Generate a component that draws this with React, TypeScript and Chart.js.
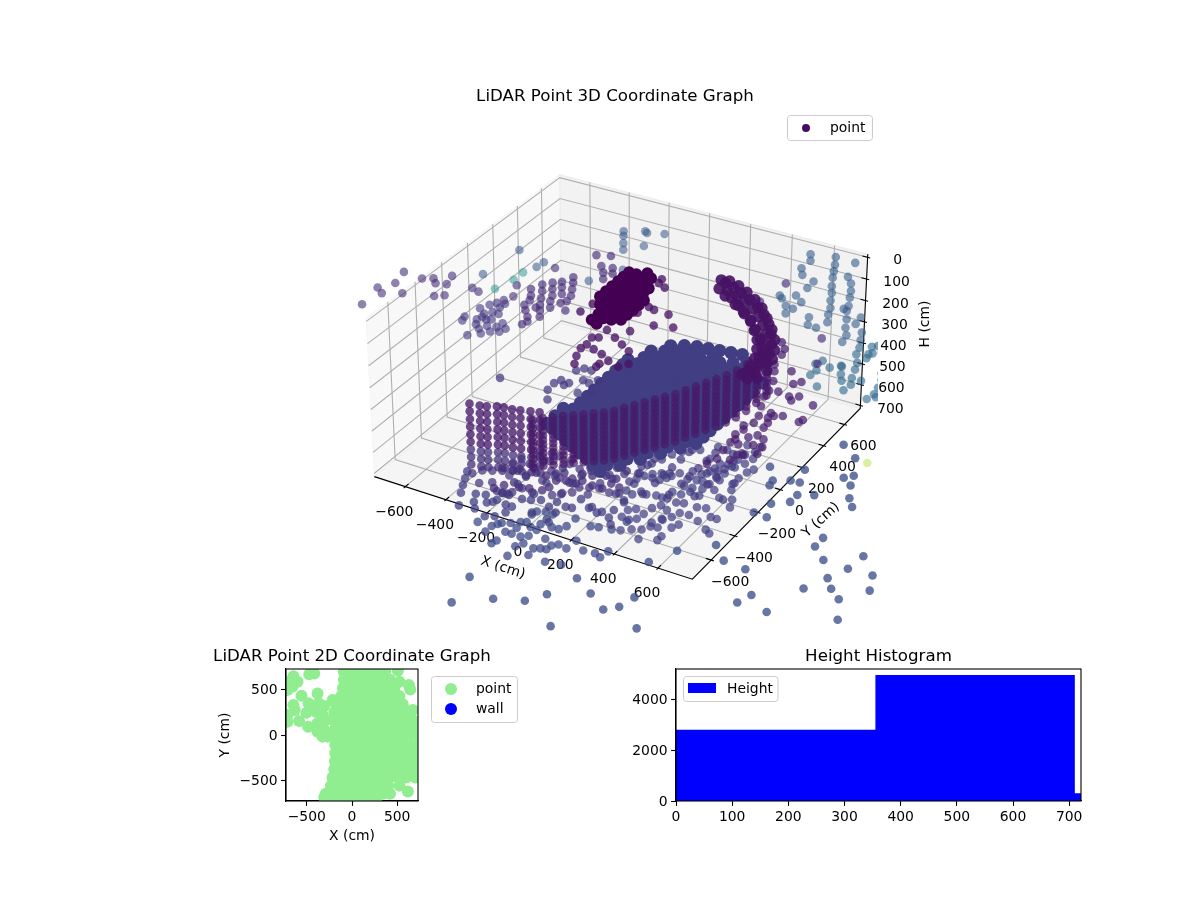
import { useEffect, useRef } from 'react';
import { Chart, registerables } from 'chart.js';

Chart.register(...registerables);
Chart.defaults.font.family = '"DejaVu Sans", sans-serif';
Chart.defaults.font.size = 13.9;
Chart.defaults.color = '#000';

// ---- 3D cloud, values in cm. Pairs are [X, Y] at one height.
const wallPoints = [[221,1200],[248,1152],[324,1233],[419,1231],[353,1175],[376,1125],[451,1113],[246,1079],[277,1032],[345,1007],[399,1075],[431,1011],[490,1070],[521,1015],[350,946],[340,868],[459,962],[544,965],[281,834],[300,818],[346,771],[387,830],[384,765],[377,716],[486,904],[575,901],[517,849],[569,870],[588,862],[536,797],[623,800],[667,843],[478,736],[505,679],[565,739],[547,675],[675,785],[654,736],[733,736],[689,683],[761,677],[701,627]];
const wallLowPoints = [[847,672],[829,653],[788,620],[889,633],[848,591],[857,559],[804,566],[859,607],[843,506],[796,452],[863,453],[803,447],[695,413],[709,449],[727,366],[763,414],[724,320],[831,390],[861,344],[887,385],[932,384],[1003,432],[911,335],[1022,370],[908,279],[796,251],[1035,314],[1054,297],[1029,264],[975,481]];
const wallDarkPoints = [[-29,1451],[-51,1266],[327,1134],[414,945]];
const backLeftPoints = [[-959,-490],[-975,-334],[-936,-367],[-931,-264],[-862,-325],[-948,-164],[-855,-175],[-814,-151],[-786,-182],[-742,-166],[-758,-94],[-736,-280],[-702,-253],[-634,-141],[-596,-156],[-486,-30],[-451,-119],[-423,178]];
const backBluePoints = [[-655,-17],[-628,237],[-494,148],[-488,197],[-247,152],[-172,304],[-257,637],[-243,628],[-176,657],[-335,593],[-316,559],[-285,504],[-257,455],[-199,525]];
const backTealPoints = [[-549,-101],[-521,5],[-519,79]];
const leftClusterPoints = [[-519,-276],[-500,-230],[-482,-201],[-469,-166],[-449,-191],[-452,-229],[-480,-309],[-476,-334],[-458,-279],[-428,-280],[-483,-365],[-449,-346],[-531,-402],[-539,-369],[-431,-336],[-374,-341],[-466,-402],[-436,-430],[-419,-392],[-381,-380],[-340,-375],[-409,-461],[-384,-428],[-350,-409],[-450,-501]];
const midColumnPoints = [[-300,-308],[-293,-276],[-375,-159],[-348,-197],[-313,-241],[-419,-28],[-391,-77],[-376,-113],[-269,-216],[-296,-168],[-319,-127],[-343,-76],[-371,-19],[-398,29],[-323,-155],[-369,64],[-342,16],[-314,-33],[-298,-78],[-271,-126],[-339,90],[-316,49],[-288,0],[-253,-71],[-204,-116],[-318,147],[-295,106],[-271,56],[-247,5],[-239,-44],[-330,359],[-274,382],[-265,287],[-216,296],[-230,243],[-193,255],[-203,195]];
const nearBlobPoints = [[80,83],[111,72],[183,67],[177,-45],[255,-19],[-111,283],[13,281],[8,315],[54,259],[116,-135],[49,9],[64,18]];
const farOutlierPoints = [[0,-1304],[38,-1528],[177,-1412],[303,-1359],[358,-1264],[505,-1490],[403,-1084],[517,-1165],[631,-1255],[679,-1201],[696,-1100],[835,-1321],[1099,-916],[1120,-832],[1249,-922],[1286,-674],[1331,-548],[1389,-616],[1462,-675],[1547,-826],[1239,-428],[1366,-437],[1371,-316],[1486,-433],[1540,-547],[1151,-349],[1145,-271],[989,-660],[873,-645],[780,-550],[660,-674],[602,-815],[838,429],[936,358],[1002,232],[973,197],[1030,157],[1078,65],[1124,9],[936,12],[873,-23],[875,-87],[812,-140],[852,-245],[785,-239],[831,70],[789,65],[723,27],[731,-13],[798,170],[657,118]];
const floorRightPoints = [[609,63],[596,28],[589,-30],[610,-128],[653,-195],[676,-254],[619,-214],[597,-208],[547,-164],[592,-311],[554,-323],[514,-400],[556,-395],[501,-445],[479,-485],[450,-528],[385,-483],[337,-465],[311,-489],[645,-363],[675,-364],[613,-418],[558,-485],[544,-521],[492,-550],[462,-558],[441,-598],[404,-619],[367,-649],[678,-463],[707,-482],[542,-604],[543,-640],[469,-673],[515,-236],[466,-228],[444,-267],[400,-266],[386,-328],[356,-326],[315,-340],[285,-331],[263,-370],[226,-355],[468,-127],[442,-132],[404,-144],[352,-120],[315,-141],[285,-158],[255,-183],[233,-214],[216,-251],[508,-76],[452,-63],[505,-132],[493,44],[531,37],[553,85],[563,137],[590,-84],[518,-26],[461,-12]];
const floorRightExtraPoints = [[227,-290],[420,-199],[458,-196],[499,-182],[271,-211],[305,-210],[323,-181],[333,-157],[392,-79],[436,-80],[455,-43],[484,-26],[594,-74],[527,-84],[204,-204],[183,-151],[209,-110],[230,-61],[247,-5],[273,36],[302,71],[332,88],[404,47],[461,33],[516,38],[511,99],[517,148],[543,189],[486,222],[542,235],[470,129],[432,145],[386,147],[408,-324],[458,-333],[490,-323],[392,-425],[257,-429],[413,-385],[455,-407],[472,-480],[379,-532],[354,-556],[316,-550]];
const floorDarkRightPoints = [[475,379],[419,392],[393,351],[398,272],[412,206],[417,136],[430,62],[413,6],[409,452],[451,457],[465,483],[522,296],[508,234],[510,144],[559,180],[458,279],[449,209],[549,239],[488,132],[482,82],[195,1022],[286,800],[349,836],[407,750],[429,781],[383,664],[442,653],[466,629],[479,674],[498,502],[566,641],[588,516],[350,600],[345,652],[321,729],[259,848],[233,980],[246,932],[378,525],[443,497],[471,422],[484,312],[409,323],[418,237],[581,494]];
const floorNearPoints = [[-311,-478],[-274,-457],[-256,-428],[-204,-462],[-178,-421],[-130,-420],[-101,-385],[-74,-362],[-21,-386],[-4,-330],[41,-323],[92,-294],[141,-294],[148,-217],[-141,-545],[-182,-559],[-220,-536],[-246,-577],[-271,-619],[-85,-532],[-71,-496],[-73,-434],[-36,-413],[12,-412],[24,-379],[80,-392],[129,-392],[142,-338],[188,-349]];
const floorNearExtraPoints = [[-266,-497],[-256,-446],[-124,-463],[-130,-375],[-73,-406],[-16,-420],[40,-433],[77,-412],[118,-398],[171,-405],[211,-390],[-222,-636],[-188,-609],[-167,-560],[-114,-567],[-29,-545],[0,-510],[34,-483],[-233,-296],[-176,-310],[-159,-254],[-91,-288],[-34,-302],[18,-291],[66,-290],[127,-302],[151,-242],[-239,-372],[-288,-355],[-302,-408],[-323,-457],[-348,-499],[-385,-520],[-411,-561],[-346,-615],[-301,-582]];
const floorMidPoints = [[-330,-816],[-374,-722],[-398,-663],[-417,-611],[-437,-558],[-315,-698],[-290,-758],[-259,-804],[-274,-684],[-239,-736],[-220,-718],[-213,-695],[-219,-634],[-248,-633],[-188,-635],[-124,-636],[-130,-712],[-130,-766],[-154,-817],[-191,-838],[-87,-624],[-50,-603],[7,-634],[17,-583],[69,-599],[96,-593],[94,-512],[159,-557],[207,-574],[272,-584],[-161,-711],[166,-544],[223,-558],[259,-519],[265,-443],[-33,-711],[55,-661],[306,-628],[50,-728]];
const floorFarPoints = [[-194,-893],[-126,-892],[-112,-865],[-101,-850],[-126,-946],[-68,-831],[-35,-803],[-13,-790],[-25,-725],[-18,-694],[15,-676],[52,-681],[69,-744],[47,-775],[22,-817],[-26,-853],[-52,-904],[-21,-905],[-56,-1016],[-49,-985],[24,-907],[50,-883],[56,-825],[124,-869],[100,-773],[134,-772],[151,-734],[153,-661],[240,-684],[274,-674],[330,-661],[354,-574],[62,-949],[44,-987],[54,-1072],[128,-1021],[119,-963],[145,-948],[171,-942],[174,-904],[196,-882],[241,-893],[247,-817],[312,-872],[367,-867],[402,-884],[408,-825],[217,-1034],[289,-1021]];
const midDarkPoints = [[-674,812],[-660,892],[-522,552],[-506,488],[-481,428],[-524,651],[-499,665],[-470,572],[-420,554],[-439,699],[-385,665],[-332,632],[-389,481],[-368,520],[-389,454],[-308,500],[-281,542],[-515,591],[-500,737]];
const midBluePoints = [[-425,415],[-447,384],[-391,416],[-463,284],[-477,248],[-473,187],[-433,256],[-422,280],[-382,330],[-348,322],[-327,361],[-350,229],[-301,257],[-434,118],[-697,170]];
const strayGreenPoints = [[1000,350]];

// floor just under the near wall, one X per row
const underBandRowX = [-200, -100, 0, 100, 200, 300, 400, 500];
const underBandRowY = [
  [-250, -320, -395, -470, -540, -630],
  [-190, -255, -330, -400, -470, -575],
  [-130, -205, -270, -345, -420, -520],
  [-70, -140, -215, -280, -360, -465],
  [5, -70, -130, -210, -285, -400],
  [50, -20, -95, -165, -240, -345],
  [100, 25, -45, -120, -190, -295],
  [150, 80, 5, -65, -140, -250],
];

// the dense floor disc: one X per row, the Ys seen along it
const massRowX = [-340, -300, -250, -200, -150, -100, -50, 0, 50, 100, 150, 200, 250, 290];
const massRowY = [
  [-50, 20, 90],
  [-75, -15, 45, 105, 165, 225, 285, 345, 405, 465, 525, 570],
  [-100, -40, 20, 80, 140, 200, 260, 320, 380, 440, 500, 560, 620, 680],
  [-130, -70, -10, 50, 110, 170, 230, 290, 350, 410, 470, 530, 590, 650, 710, 760],
  [-160, -100, -40, 20, 80, 140, 200, 260, 320, 380, 440, 500, 560, 620, 680, 740, 790],
  [-190, -130, -70, -10, 50, 110, 170, 230, 290, 350, 410, 470, 530, 590, 650, 710, 770, 810],
  [-215, -155, -95, -35, 25, 85, 145, 205, 265, 325, 385, 445, 505, 565, 625, 685, 745, 820],
  [-245, -185, -125, -65, -5, 55, 115, 175, 235, 295, 355, 415, 475, 535, 595, 655, 715, 775, 830],
  [-275, -215, -155, -95, -35, 25, 85, 145, 205, 265, 325, 385, 445, 505, 565, 625, 685, 745, 840],
  [-190, -130, -70, -10, 50, 110, 170, 230, 290, 350, 410, 470, 530, 590, 650, 710, 770, 850],
  [-105, -45, 15, 75, 135, 195, 255, 315, 375, 435, 495, 555, 615, 675, 735, 800],
  [-20, 40, 100, 160, 220, 280, 340, 400, 460, 520, 580, 640, 700, 750],
  [60, 120, 180, 240, 300, 360, 420, 480, 540, 600, 660, 700],
  [125, 185, 245, 305, 365, 425, 485, 545, 605, 690],
];

// the near wall of the cylinder: columns at one X,Y
const bandX = [-76,-47,-14,19,52,85,118,152,181,206,231,257,282,307,333,354,375,397,418,440,457,467,472,478];
const bandY = [-618,-583,-555,-527,-499,-471,-443,-416,-381,-339,-297,-256,-214,-172,-131,-82,-33,15,64,112,168,237,314,390];
const bandH = [330, 350, 370, 390, 410, 430, 450, 470, 490, 510, 530, 550];
const leftColumnX = [-344,-299,-270,-233,-204,-166,-132,-91,-54];
const leftColumnY = [-679,-672,-663,-642,-635,-632,-622,-608,-596];
const leftColumnUpperH = [300, 335, 370, 405, 440, 475];
const leftColumnLowerH = [510, 545, 580];

const crescentPoints = [[206,500],[244,449],[256,482],[302,426],[308,458],[358,395],[365,426],[415,364],[426,387],[469,320],[480,345],[519,267],[537,286],[569,204],[588,215],[612,128],[634,141],[644,55],[666,67],[675,-18],[697,-6],[692,-100],[693,-163],[291,402],[348,361],[405,312],[459,270],[512,209],[562,146],[601,77],[633,4],[653,-66],[655,-138],[179,513],[208,445],[213,522],[266,506],[261,403],[323,475],[333,362],[383,437],[394,324],[444,390],[455,277],[506,324],[512,218],[571,252],[570,160],[625,182],[616,95],[668,106],[648,22],[700,33],[675,-54],[728,-61],[666,-115],[726,-135]];

const blobRowX = [-140, -105, -70, -35, 0, 35];
const blobRowY = [
  [60, 110, 160, 210, 255, 300],
  [0, 50, 100, 150, 200, 250, 300],
  [-130, -75, -20, 40, 100, 160, 215, 270, 330],
  [-150, -95, -40, 15, 70, 125, 180, 240, 300],
  [-90, -35, 20, 75, 125, 175, 220],
  [-70, -20, 30, 75, 120],
];

// ---- 2D view: rows of the same cloud seen from above
const planRowY = [700, 610, 520, 430, 340, 250, 160, 70, -20, -110, -200, -290, -380, -470, -560, -650, -720];
const planRowX = [
  [-90, 0, 90, 180, 270, 366],
  [-90, 0, 90, 180, 270, 360, 420],
  [-100, -10, 80, 170, 260, 350, 440, 470],
  [-120, -30, 60, 150, 240, 330, 420, 525],
  [-178, -90, 0, 90, 180, 270, 360, 450, 562],
  [-196, -100, -10, 80, 170, 260, 350, 440, 530, 618],
  [-196, -100, -10, 80, 170, 260, 350, 440, 530, 620, 673],
  [-185, -90, 0, 90, 180, 270, 360, 450, 540, 630, 729],
  [-196, -100, -10, 80, 170, 260, 350, 440, 530, 620, 729],
  [-185, -90, 0, 90, 180, 270, 360, 450, 540, 630, 729],
  [-185, -90, 0, 90, 180, 270, 360, 450, 540, 630, 729],
  [-189, -100, -10, 80, 170, 260, 350, 440, 530, 620, 729],
  [-196, -100, -10, 80, 170, 260, 350, 440, 530, 620, 720],
  [-215, -120, -30, 60, 150, 240, 330, 420, 510, 600, 700],
  [-233, -140, -50, 40, 130, 220, 310, 400, 525],
  [-290, -200, -110, -20, 70, 160, 250, 340, 420],
  [-296, -200, -110, -20, 70, 160, 266],
];
const planLobes = [[618,-625],[525,590],[629,552],[644,504],[507,710],[673,276],[718,147],[-647,651],[-695,589],[-603,589],[-659,534],[-714,497],[-473,673],[-418,681],[-559,434],[-381,460],[-647,331],[-481,350],[-633,276],[-503,247],[-714,221],[-714,147],[-585,155],[-485,92],[-370,350],[-307,320],[-400,258],[-326,221],[-289,166],[-381,129],[-381,37],[-326,-18],[-307,55],[-215,386],[-270,-18],[-307,-692]];

// ---- histogram
const histEdges = [0, 355, 710, 721];
const histCounts = [2800, 4950, 300, 300];

// mplot3d camera, elev 30 azim -60, box aspect 2:2:1
const LIM = 725;
const H_TOP = 0;
const H_BOTTOM = 700;
const BOX_XY = 1.2197;
const BOX_Z = 0.6098;
const DIST = 10;
const toBox = (x: number, y: number, h: number) => [
  (x / (2 * LIM)) * BOX_XY,
  (y / (2 * LIM)) * BOX_XY,
  ((350 - h) / (H_BOTTOM - H_TOP)) * BOX_Z,
];
const depth = (x: number, y: number, h: number) => {
  const [px, py, pz] = toBox(x, y, h);
  return DIST - (0.433 * px - 0.75 * py + 0.5 * pz);
};
const project = (x: number, y: number, h: number) => {
  const [px, py, pz] = toBox(x, y, h);
  const den = depth(x, y, h);
  return {
    x: (0.866 * px + 0.5 * py) / den,
    y: (-0.25 * px + 0.433 * py + 0.866 * pz) / den,
  };
};
// the X,Y above were read with a flat camera, pull them in by the depth they sit at
const place = (x: number, y: number, h: number) => {
  const f = depth(x, y, h) / depth(0, 0, h);
  return project(x * f, y * f, h);
};

const VIRIDIS = [[68,1,84],[72,36,117],[65,68,135],[53,95,141],[42,120,142],[33,145,140],[34,168,132],[68,191,112],[122,209,81],[189,223,38],[253,231,37]];
const viridis = (t: number, alpha: number) => {
  const pos = Math.min(t * 10, 9.999);
  const i = Math.floor(pos);
  const f = pos - i;
  const c = VIRIDIS[i].map((v, k) => Math.round(v + (VIRIDIS[i + 1][k] - v) * f));
  return `rgba(${c[0]},${c[1]},${c[2]},${alpha})`;
};

const atHeight = (pairs: number[][], h: number) => pairs.map(([x, y]) => place(x, y, h));
const rows = (rowX: number[], rowY: number[][], h: number) =>
  rowX.flatMap((x, i) => rowY[i].map((y) => place(x, y, h)));
const columns = (xs: number[], ys: number[], hs: number[]) =>
  xs.flatMap((x, i) => hs.map((h) => place(x, ys[i], h)));

const layer = (data: { x: number; y: number }[], shade: number, alpha: number, radius = 4.3) => ({
  data,
  showLine: false,
  pointRadius: radius,
  pointBorderWidth: 0,
  pointHoverRadius: radius,
  pointBackgroundColor: viridis(shade, alpha),
  clip: 0,
});

// listed back to front; Chart.js paints the first dataset last, hence the reverse
const cloudLayers = [
  layer(atHeight(wallPoints, 350), 0.29, 0.6),
  layer(atHeight(wallLowPoints, 350), 0.34, 0.62),
  layer(atHeight(wallDarkPoints, 700), 0.12, 0.65),
  layer(atHeight(backLeftPoints, 100), 0.13, 0.6),
  layer(atHeight(backBluePoints, 100), 0.27, 0.55),
  layer(atHeight(backTealPoints, 100), 0.52, 0.5),
  layer(atHeight(leftClusterPoints, 100), 0.16, 0.6),
  layer(atHeight(midColumnPoints, 100), 0.13, 0.65),
  layer(atHeight(farOutlierPoints, 700), 0.24, 0.78),
  layer(atHeight(floorFarPoints, 700), 0.22, 0.75),
  layer(atHeight(floorMidPoints, 700), 0.18, 0.75),
  layer(atHeight(floorNearPoints, 700), 0.13, 0.75),
  layer(atHeight(floorNearExtraPoints, 700), 0.15, 0.72),
  layer(atHeight(floorRightPoints, 700), 0.19, 0.72),
  layer(atHeight(floorRightExtraPoints, 700), 0.18, 0.72),
  layer(rows(underBandRowX, underBandRowY, 700), 0.16, 0.72),
  layer(atHeight(floorDarkRightPoints, 700), 0.08, 0.72),
  layer(rows(massRowX, massRowY, 700), 0.18, 1, 6.6),
  layer(atHeight(midBluePoints, 700), 0.16, 0.72),
  layer(atHeight(midDarkPoints, 700), 0.05, 0.78),
  layer(columns(leftColumnX, leftColumnY, leftColumnLowerH), 0.14, 0.75),
  layer(columns(leftColumnX, leftColumnY, leftColumnUpperH), 0.07, 0.78),
  layer(columns(bandX, bandY, bandH), 0.07, 0.7),
  layer(atHeight(crescentPoints, 150), 0.05, 0.9, 5.8),
  layer(atHeight(nearBlobPoints, 100), 0.04, 0.75),
  layer(rows(blobRowX, blobRowY, 100), 0, 1, 6),
  layer(atHeight(strayGreenPoints, 700), 0.88, 0.45),
].reverse();

const planPoints = [
  ...planRowY.flatMap((y, i) => planRowX[i].map((x) => ({ x, y }))),
  ...planLobes.map(([x, y]) => ({ x, y })),
];
const wallPlanPoints: { x: number; y: number }[] = [];

const minus = (v: number) => (v < 0 ? `\u2212${-v}` : `${v}`);
const fixedTicks = (values: number[]) => (scale: any) => {
  scale.ticks = values.map((value) => ({ value }));
};

const axis = (min: number, max: number, values: number[], labelOffset: number, extra: object) => ({
  type: 'linear' as const,
  min,
  max,
  afterBuildTicks: fixedTicks(values),
  grid: { drawOnChartArea: false, tickColor: '#000', tickLength: 4.9, tickWidth: 1.1 },
  border: { color: '#000', width: 1.1 },
  ticks: { autoSkip: false, maxRotation: 0, padding: 3.5, labelOffset, callback: (v: any) => minus(Number(v)) },
  ...extra,
});

// centred over the axes, the built-in title squeezes to the narrow plot
const titleAbove = (text: string, y: number) => ({
  id: 'titleAbove',
  afterDraw(chart: Chart) {
    const ctx = chart.ctx;
    const { left, right } = chart.chartArea;
    ctx.save();
    ctx.fillStyle = '#000';
    ctx.font = '16.67px "DejaVu Sans"';
    ctx.textAlign = 'center';
    ctx.textBaseline = 'middle';
    ctx.fillText(text, (left + right) / 2, y);
    ctx.restore();
  },
});

const legendBox = (box: number[], draw: (ctx: CanvasRenderingContext2D) => void) => ({
  id: 'legendBox',
  afterDraw(chart: Chart) {
    const ctx = chart.ctx;
    ctx.save();
    ctx.beginPath();
    ctx.roundRect(box[0], box[1], box[2], box[3], 3);
    ctx.fillStyle = 'rgba(255,255,255,0.8)';
    ctx.fill();
    ctx.strokeStyle = '#cccccc';
    ctx.lineWidth = 1;
    ctx.stroke();
    ctx.font = '13.9px "DejaVu Sans"';
    ctx.textBaseline = 'middle';
    draw(ctx);
    ctx.restore();
  },
});

const dot = (ctx: CanvasRenderingContext2D, x: number, y: number, r: number, color: string) => {
  ctx.fillStyle = color;
  ctx.beginPath();
  ctx.arc(x, y, r, 0, Math.PI * 2);
  ctx.fill();
};

const frame = {
  id: 'frame',
  afterDatasetsDraw(chart: Chart) {
    const { left, top, width, height } = chart.chartArea;
    chart.ctx.save();
    chart.ctx.strokeStyle = '#000';
    chart.ctx.lineWidth = 1.1;
    chart.ctx.strokeRect(left, top, width, height);
    chart.ctx.restore();
  },
};

// panes, grid, axes and their text, drawn through the chart's own scales
const panes3d = {
  id: 'panes3d',
  beforeDatasetsDraw(chart: Chart) {
    const ctx = chart.ctx;
    const sx = chart.scales.x;
    const sy = chart.scales.y;
    const pad = (2 * LIM) / 48;
    const hPad = (H_BOTTOM - H_TOP) / 48;
    const lo = -LIM - pad;
    const hi = LIM + pad;
    const top = H_TOP - hPad;
    const bot = H_BOTTOM + hPad;
    const at = (x: number, y: number, h: number): [number, number] => {
      const p = project(x, y, h);
      return [sx.getPixelForValue(p.x), sy.getPixelForValue(p.y)];
    };
    const path = (pts: [number, number][]) => {
      ctx.beginPath();
      pts.forEach((p, i) => (i ? ctx.lineTo(p[0], p[1]) : ctx.moveTo(p[0], p[1])));
    };
    ctx.save();
    const paneList: [[number, number][], string][] = [
      [[at(lo, lo, bot), at(lo, hi, bot), at(lo, hi, top), at(lo, lo, top)], 'rgba(242,242,242,0.5)'],
      [[at(lo, hi, bot), at(hi, hi, bot), at(hi, hi, top), at(lo, hi, top)], 'rgba(230,230,230,0.5)'],
      [[at(lo, lo, bot), at(hi, lo, bot), at(hi, hi, bot), at(lo, hi, bot)], 'rgba(236,236,236,0.5)'],
    ];
    paneList.forEach(([pts, color]) => {
      path(pts);
      ctx.closePath();
      ctx.fillStyle = color;
      ctx.fill();
      ctx.strokeStyle = color;
      ctx.lineWidth = 1.1;
      ctx.stroke();
    });

    const xyTicks = [-600, -400, -200, 0, 200, 400, 600];
    const hTicks = [0, 100, 200, 300, 400, 500, 600, 700];
    ctx.strokeStyle = '#b0b0b0';
    ctx.lineWidth = 1.1;
    xyTicks.forEach((v) => {
      path([at(v, lo, bot), at(v, hi, bot), at(v, hi, top)]);
      ctx.stroke();
      path([at(hi, v, bot), at(lo, v, bot), at(lo, v, top)]);
      ctx.stroke();
    });
    hTicks.forEach((h) => {
      path([at(lo, lo, h), at(lo, hi, h), at(hi, hi, h)]);
      ctx.stroke();
    });

    ctx.strokeStyle = '#000';
    path([at(lo, lo, bot), at(hi, lo, bot), at(hi, hi, bot), at(hi, hi, top)]);
    ctx.stroke();

    ctx.fillStyle = '#000';
    ctx.font = '13.9px "DejaVu Sans"';
    ctx.textAlign = 'center';
    ctx.textBaseline = 'middle';
    xyTicks.forEach((v) => {
      path([at(v, lo - 12, bot), at(v, lo + 24, bot)]);
      ctx.stroke();
      const p = at(v, lo, bot);
      ctx.fillText(minus(v), p[0] - 11, p[1] + 25.5);
      path([at(hi + 12, v, bot), at(hi - 24, v, bot)]);
      ctx.stroke();
      const q = at(hi, v, bot);
      ctx.fillText(minus(v), q[0] + 19, q[1] + 22);
    });
    hTicks.forEach((h) => {
      path([at(hi + 12, hi, h), at(hi - 24, hi, h)]);
      ctx.stroke();
      const p = at(hi, hi, h);
      ctx.fillText(minus(h), p[0] + 30, p[1] + 3.5);
    });

    const label = (text: string, x: number, y: number, deg: number) => {
      ctx.save();
      ctx.translate(x, y);
      ctx.rotate((deg * Math.PI) / 180);
      ctx.fillText(text, 0, 0);
      ctx.restore();
    };
    label('X (cm)', 503, 568, 18);
    label('Y (cm)', 821, 520, -42);
    label('H (cm)', 925, 324, -90);
    ctx.restore();
  },
};

const legend3d = legendBox([787.5, 115.5, 85, 25], (ctx) => {
  dot(ctx, 806, 128, 4, viridis(0.03, 1));
  ctx.fillStyle = '#000';
  ctx.fillText('point', 830, 128.5);
});
const legend2d = legendBox([431.5, 676.5, 86, 46], (ctx) => {
  dot(ctx, 451, 689, 6, 'lightgreen');
  dot(ctx, 451, 709, 6, 'blue');
  ctx.fillStyle = '#000';
  ctx.fillText('point', 476, 689);
  ctx.fillText('wall', 476, 709);
});
const legendHist = legendBox([683.5, 676.5, 94.5, 25], (ctx) => {
  ctx.fillStyle = 'blue';
  ctx.fillRect(688, 683, 28, 10);
  ctx.fillStyle = '#000';
  ctx.fillText('Height', 727, 689);
});

export default function App() {
  const cloudRef = useRef<HTMLCanvasElement>(null);
  const planRef = useRef<HTMLCanvasElement>(null);
  const histRef = useRef<HTMLCanvasElement>(null);

  useEffect(() => {
    if (!cloudRef.current || !planRef.current || !histRef.current) return;
    const base = { animation: false as const, responsive: false, events: [] as any[] };
    const quiet = { legend: { display: false }, tooltip: { enabled: false } };

    const cloud = new Chart(cloudRef.current, {
      type: 'scatter',
      data: { datasets: cloudLayers as any },
      options: {
        ...base,
        layout: { padding: { left: 352, right: 322, top: 109, bottom: 265 } },
        plugins: quiet,
        scales: {
          x: { type: 'linear', min: -0.095, max: 0.09, display: false },
          y: { type: 'linear', min: -0.095, max: 0.09, display: false },
        },
      },
      plugins: [panes3d, titleAbove('LiDAR Point 3D Coordinate Graph', 96.5), legend3d],
    });

    const plan = new Chart(planRef.current, {
      type: 'scatter',
      data: {
        datasets: [
          { label: 'point', data: planPoints, pointRadius: 6, pointBorderWidth: 0, pointBackgroundColor: 'lightgreen', clip: 0 },
          { label: 'wall', data: wallPlanPoints, pointRadius: 6, pointBorderWidth: 0, pointBackgroundColor: 'blue', clip: 0 },
        ],
      },
      options: {
        ...base,
        layout: { padding: { left: 217, right: 782, top: 669, bottom: 55 } },
        plugins: quiet,
        scales: {
          x: axis(-730, 730, [-500, 0, 500], 0, {
            afterFit: (s: any) => { s.height = 44; },
            title: { display: true, text: 'X (cm)', color: '#000', padding: 0 },
          }),
          y: axis(-730, 730, [-500, 0, 500], 1, {
            afterFit: (s: any) => { s.width = 69; },
            title: { display: true, text: 'Y (cm)', color: '#000', padding: 0 },
          }),
        },
      },
      plugins: [frame, titleAbove('LiDAR Point 2D Coordinate Graph', 657), legend2d],
    });

    const hist = new Chart(histRef.current, {
      type: 'scatter',
      data: {
        datasets: [
          {
            label: 'Height',
            data: histEdges.map((x, i) => ({ x, y: histCounts[i] })),
            showLine: true,
            stepped: 'before',
            fill: 'origin',
            backgroundColor: 'blue',
            borderWidth: 0,
            pointRadius: 0,
          },
        ],
      },
      options: {
        ...base,
        layout: { padding: { left: 616, right: 119, top: 669, bottom: 55 } },
        plugins: quiet,
        scales: {
          x: axis(0, 721, [0, 100, 200, 300, 400, 500, 600, 700], 0, { afterFit: (s: any) => { s.height = 44; } }),
          y: axis(0, 5183, [0, 2000, 4000], 1, { afterFit: (s: any) => { s.width = 60; } }),
        },
      },
      plugins: [frame, titleAbove('Height Histogram', 657), legendHist],
    });

    return () => {
      cloud.destroy();
      plan.destroy();
      hist.destroy();
    };
  }, []);

  const layerStyle: React.CSSProperties = { position: 'absolute', left: 0, top: 0 };
  return (
    <div style={{ position: 'absolute', left: 0, top: 0, width: 1200, height: 900, background: '#fff' }}>
      <canvas ref={cloudRef} width={1200} height={900} style={layerStyle} />
      <canvas ref={planRef} width={1200} height={900} style={layerStyle} />
      <canvas ref={histRef} width={1200} height={900} style={layerStyle} />
    </div>
  );
}
